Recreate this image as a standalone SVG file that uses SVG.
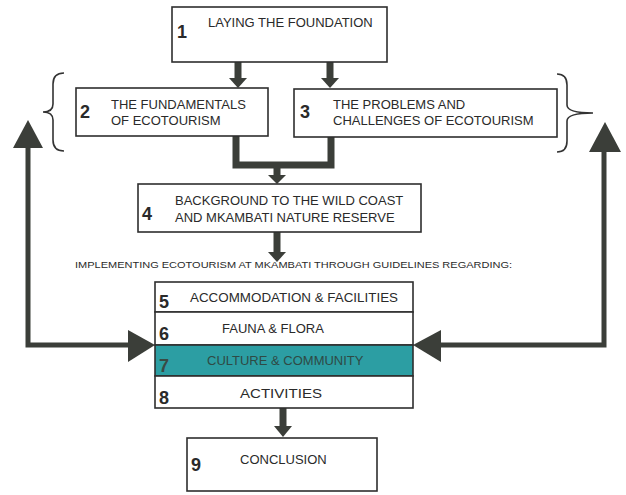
<svg xmlns="http://www.w3.org/2000/svg" width="626" height="495" viewBox="0 0 626 495">
<style>
.box{fill:#fff;stroke:#2e2e2e;stroke-width:1.6}
.num{font-family:"Liberation Sans",Arial,sans-serif;font-weight:bold;font-size:18px;fill:#2a2a2a}
.lbl{font-family:"Liberation Sans",Arial,sans-serif;font-size:13px;fill:#2a2a2a}
.sm{font-family:"Liberation Sans",Arial,sans-serif;font-size:8.6px;fill:#2a2a2a}
.ln{fill:none;stroke:#3b3e39;stroke-width:7}
.thin{fill:none;stroke:#3b3e39;stroke-width:5}
.hd{fill:#3b3e39}
.br{fill:none;stroke:#333;stroke-width:1.6}
</style>
<rect width="626" height="495" fill="#fff"/>
<g id="connectors">
  <line class="ln" x1="238" y1="62" x2="238" y2="80"/>
  <polygon class="hd" points="229,78 247,78 238,88"/>
  <line class="ln" x1="330" y1="62" x2="330" y2="80"/>
  <polygon class="hd" points="321,78 339,78 330,88"/>
  <polyline class="ln" points="236,136 236,165 331,165 331,136"/>
  <line class="ln" x1="277" y1="165" x2="277" y2="176"/>
  <polygon class="hd" points="268,175 286,175 277,184"/>
  <line class="ln" x1="277" y1="232" x2="277" y2="254"/>
  <polygon class="hd" points="268,252 286,252 277,262"/>
  <line class="ln" x1="283" y1="408" x2="283" y2="428"/>
  <polygon class="hd" points="274,426 292,426 283,437"/>
  <polyline class="thin" points="28,146 28,345 132,345"/>
  <polygon class="hd" points="28,120 13,148 43,148"/>
  <polygon class="hd" points="155,345 128,330 128,362"/>
  <polyline class="thin" points="604,150 604,345 438,345"/>
  <polygon class="hd" points="605,122 589,152 621,152"/>
  <polygon class="hd" points="413,345 441,330 441,362"/>
  <path class="br" d="M64,73 Q53,73 53,84 L53,104 Q53,112 43,112 Q53,112 53,120 L53,140 Q53,151 64,151"/>
  <path class="br" d="M557,74 Q567,74 567,85 L567,105 Q567,113 593,113 Q567,113 567,121 L567,141 Q567,152 557,152"/>
</g>
<g id="node1">
  <rect class="box" x="172" y="7" width="215" height="55"/>
  <text class="num" x="177" y="38">1</text>
  <text class="lbl" x="208" y="27">LAYING THE FOUNDATION</text>
</g>
<g id="node2">
  <rect class="box" x="76" y="88" width="192" height="48"/>
  <text class="num" x="80" y="118">2</text>
  <text class="lbl" x="111" y="109">THE FUNDAMENTALS</text>
  <text class="lbl" x="111" y="125">OF ECOTOURISM</text>
</g>
<g id="node3">
  <rect class="box" x="294" y="89" width="263" height="48"/>
  <text class="num" x="300" y="118">3</text>
  <text class="lbl" x="333" y="109">THE PROBLEMS AND</text>
  <text class="lbl" x="333" y="125">CHALLENGES OF ECOTOURISM</text>
</g>
<g id="node4">
  <rect class="box" x="138" y="184" width="283" height="48"/>
  <text class="num" x="142" y="220">4</text>
  <text class="lbl" x="175" y="205">BACKGROUND TO THE WILD COAST</text>
  <text class="lbl" x="175" y="222">AND MKAMBATI NATURE RESERVE</text>
</g>
<g id="label">
  <text class="sm" x="75" y="268" textLength="437" lengthAdjust="spacingAndGlyphs">IMPLEMENTING ECOTOURISM AT MKAMBATI THROUGH GUIDELINES REGARDING:</text>
</g>
<g id="node5">
  <rect class="box" x="155" y="282" width="258" height="30"/>
  <text class="num" x="159" y="308">5</text>
  <text class="lbl" x="190" y="302" textLength="208" lengthAdjust="spacingAndGlyphs">ACCOMMODATION &amp; FACILITIES</text>
</g>
<g id="node6">
  <rect class="box" x="155" y="312" width="258" height="33"/>
  <text class="num" x="159" y="340">6</text>
  <text class="lbl" x="222" y="333">FAUNA &amp; FLORA</text>
</g>
<g id="node7">
  <rect class="box" x="155" y="345" width="258" height="31" style="fill:#2c9ea3"/>
  <text class="num" x="159" y="372" style="fill:#3a4a44">7</text>
  <text class="lbl" x="207" y="365" style="fill:#2f4a45">CULTURE &amp; COMMUNITY</text>
</g>
<g id="node8">
  <rect class="box" x="155" y="376" width="258" height="32"/>
  <text class="num" x="159" y="404">8</text>
  <text class="lbl" x="240" y="398" textLength="82" lengthAdjust="spacingAndGlyphs">ACTIVITIES</text>
</g>
<g id="node9">
  <rect class="box" x="187" y="438" width="190" height="53"/>
  <text class="num" x="191" y="471">9</text>
  <text class="lbl" x="240" y="464">CONCLUSION</text>
</g>
</svg>
